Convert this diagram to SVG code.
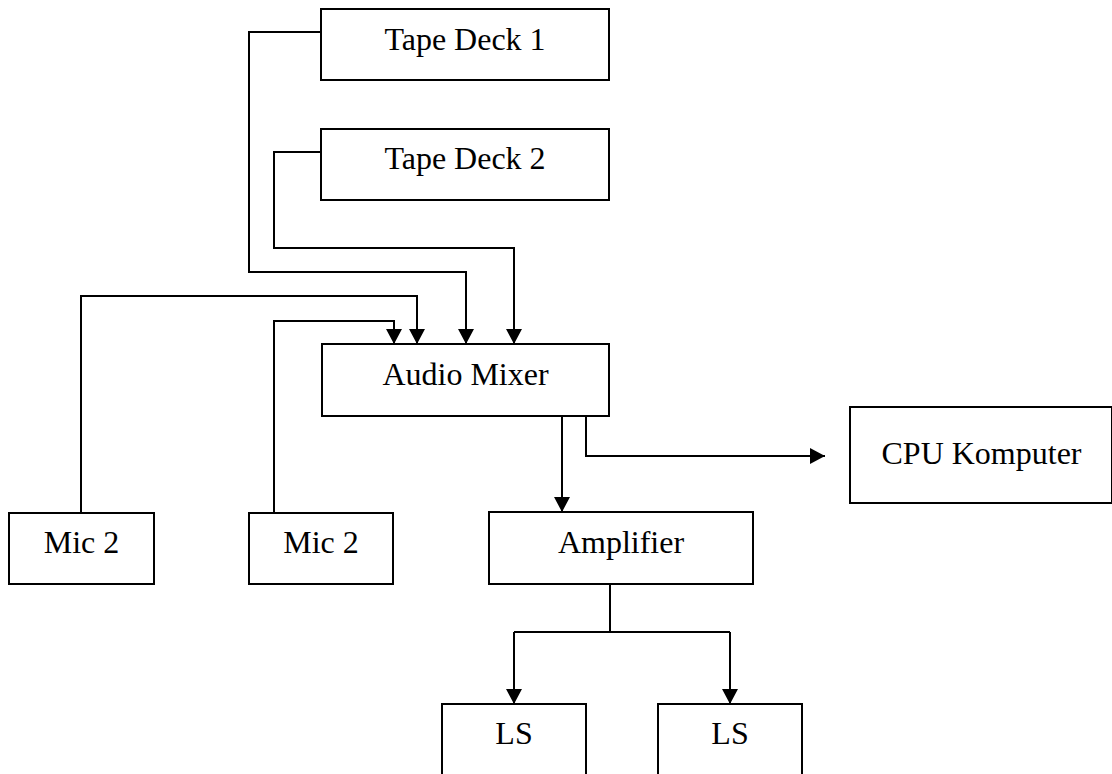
<svg xmlns="http://www.w3.org/2000/svg" width="1112" height="774" viewBox="0 0 1112 774">
  <style>
    .box { fill: #ffffff; stroke: #000000; stroke-width: 2; }
    .lbl { font-family: "Liberation Serif", "Times New Roman", serif; font-size: 32px; fill: #000000; text-anchor: middle; }
    .wire { fill: none; stroke: #000000; stroke-width: 2; }
  </style>
  <defs>
    <marker id="arrow" markerUnits="userSpaceOnUse" markerWidth="15" markerHeight="16" viewBox="0 0 15 16" refX="15" refY="8" orient="auto">
      <path d="M0,0 L15,8 L0,16 z" fill="#000000"/>
    </marker>
  </defs>
  <rect width="1112" height="774" fill="#ffffff"/>

  <g id="connectors">
    <path class="wire" d="M321,32 H249 V272 H466 V344" marker-end="url(#arrow)"/>
    <path class="wire" d="M321,152 H274 V248 H514 V344" marker-end="url(#arrow)"/>
    <path class="wire" d="M81,513 V296 H417 V344" marker-end="url(#arrow)"/>
    <path class="wire" d="M274,513 V321 H394 V344" marker-end="url(#arrow)"/>
    <path class="wire" d="M562,416 V512" marker-end="url(#arrow)"/>
    <path class="wire" d="M586,409 V456 H825" marker-end="url(#arrow)"/>
    <path class="wire" d="M610,584 V632 M514,632 H730"/>
    <path class="wire" d="M514,632 V704" marker-end="url(#arrow)"/>
    <path class="wire" d="M730,632 V704" marker-end="url(#arrow)"/>
  </g>

  <g id="tape-deck-1">
    <rect class="box" x="321" y="9" width="288" height="71"/>
    <text class="lbl" x="465" y="50">Tape Deck 1</text>
  </g>
  <g id="tape-deck-2">
    <rect class="box" x="321" y="129" width="288" height="71"/>
    <text class="lbl" x="465" y="169">Tape Deck 2</text>
  </g>
  <g id="audio-mixer">
    <rect class="box" x="322" y="344" width="287" height="72"/>
    <text class="lbl" x="465.5" y="385">Audio Mixer</text>
  </g>
  <g id="cpu-komputer">
    <rect class="box" x="850" y="407" width="262" height="96"/>
    <text class="lbl" x="981.5" y="464">CPU Komputer</text>
  </g>
  <g id="mic-2-left">
    <rect class="box" x="9" y="513" width="145" height="71"/>
    <text class="lbl" x="81.5" y="553">Mic 2</text>
  </g>
  <g id="mic-2-right">
    <rect class="box" x="249" y="513" width="144" height="71"/>
    <text class="lbl" x="321" y="553">Mic 2</text>
  </g>
  <g id="amplifier">
    <rect class="box" x="489" y="512" width="264" height="72"/>
    <text class="lbl" x="621" y="553">Amplifier</text>
  </g>
  <g id="ls-1">
    <rect class="box" x="442" y="704" width="144" height="90"/>
    <text class="lbl" x="514" y="744">LS</text>
  </g>
  <g id="ls-2">
    <rect class="box" x="658" y="704" width="144" height="90"/>
    <text class="lbl" x="730" y="744">LS</text>
  </g>
</svg>
